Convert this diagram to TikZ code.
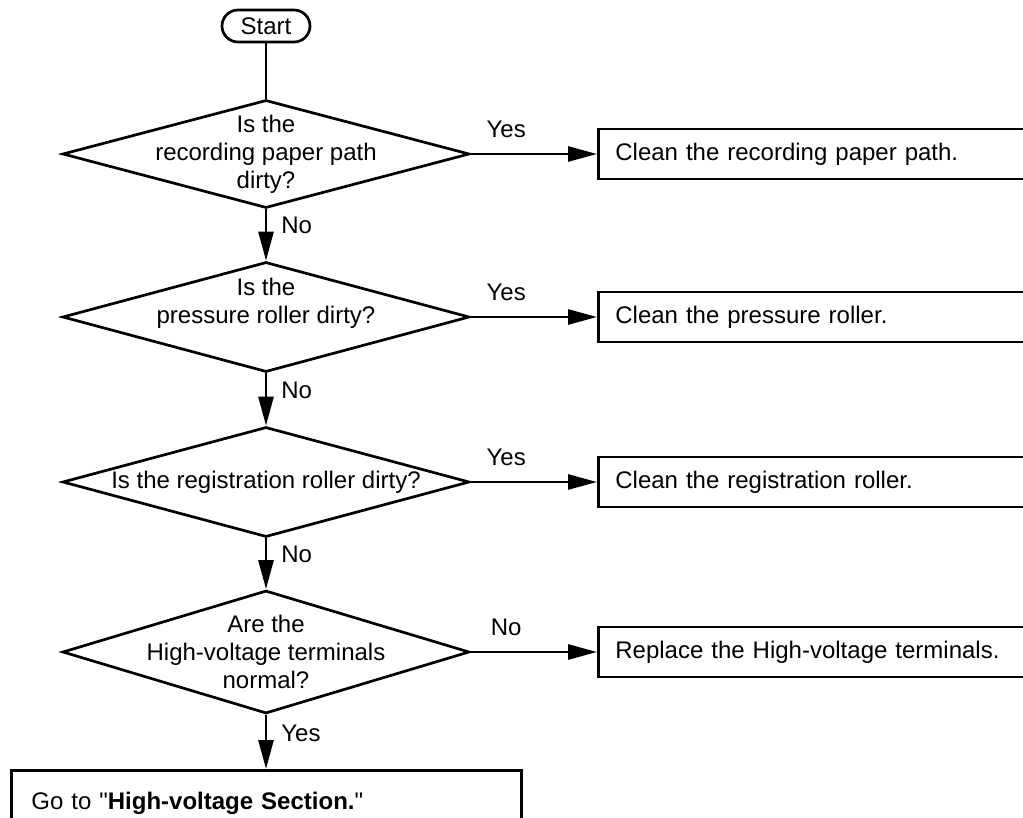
\documentclass[tikz,border=0pt]{standalone}
\usepackage{fontspec}
\setmainfont{Liberation Sans}[Ligatures=TeXOff]
\usetikzlibrary{shapes.geometric,arrows.meta}
\begin{document}
\begin{tikzpicture}[x=1pt,y=-1pt,line width=2.7pt,
  every node/.style={font=\fontsize{24}{28}\selectfont},
  dia/.style={draw,diamond,minimum width=407pt,inner sep=0pt},
  rbox/.style={draw,rectangle,anchor=west,minimum height=50pt,inner xsep=17pt,text width=426pt,align=left},
  arr/.style={-{Triangle[length=29pt,width=15pt]}},
  hlab/.style={pos=0.28,above=15pt,inner sep=0pt},
  vlab/.style={right=14pt,inner sep=0pt}]
\useasboundingbox (0,0) rectangle (1023,818);
\clip (0,0) rectangle (1023,818);
\node[draw,rounded corners=16pt,minimum width=88pt,minimum height=32pt,inner sep=0pt] (start) at (266,26) {Start};
\node[dia,minimum height=108pt,label={[align=center]center:Is the\\recording paper path\\dirty?}] (d1) at (266,154) {};
\node[dia,minimum height=110pt,label={[align=center,yshift=14pt]center:Is the\\pressure roller dirty?}] (d2) at (266,317) {};
\node[dia,minimum height=110pt,label={center:Is the registration roller dirty?}] (d3) at (266,482) {};
\node[dia,minimum height=123pt,label={[align=center]center:Are the\\High-voltage terminals\\normal?}] (d4) at (266,652) {};
\node[rbox] (b1) at (597,154) {Clean the recording paper path.};
\node[rbox] (b2) at (597,317) {Clean the pressure roller.};
\node[rbox] (b3) at (597,482) {Clean the registration roller.};
\node[rbox] (b4) at (597,652) {Replace the High-voltage terminals.};
\node[draw,rectangle,anchor=north west,minimum height=66pt,inner xsep=20pt,text width=470pt,align=left] (b5) at (10,769) {Go to "\textbf{High-voltage Section.}"};
\draw (start) -- (d1);
\draw[arr] (d1.east) -- (b1.west) node[hlab] {Yes};
\draw[arr] (d2.east) -- (b2.west) node[hlab] {Yes};
\draw[arr] (d3.east) -- (b3.west) node[hlab] {Yes};
\draw[arr] (d4.east) -- (b4.west) node[hlab] {No};
\draw[arr] (d1.south) -- (d2.north) node[pos=0.32,vlab] {No};
\draw[arr] (d2.south) -- (d3.north) node[pos=0.32,vlab] {No};
\draw[arr] (d3.south) -- (d4.north) node[pos=0.32,vlab] {No};
\draw[arr] (d4.south) -- (b5.north -| d4.south) node[pos=0.35,vlab] {Yes};
\end{tikzpicture}
\end{document}
